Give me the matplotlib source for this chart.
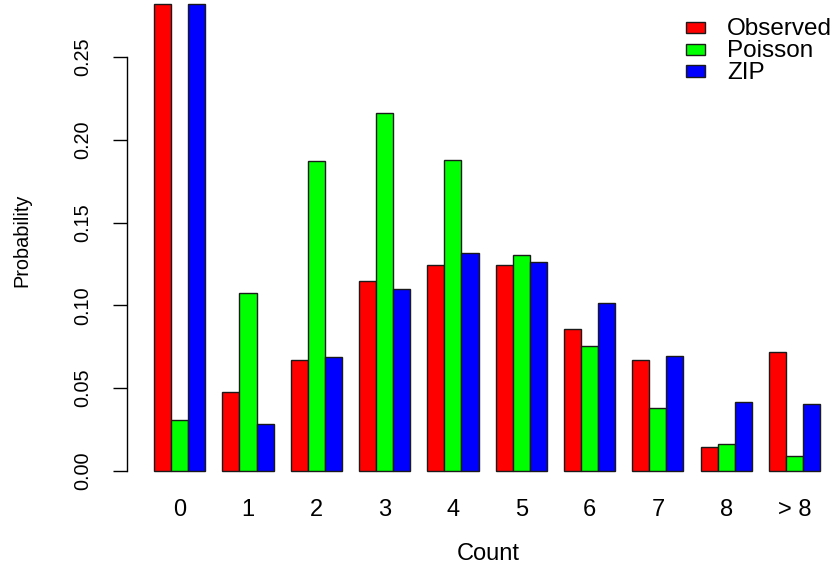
import matplotlib
matplotlib.use("Agg")
import matplotlib.pyplot as plt
import numpy as np

plt.rcParams['font.family'] = ['Liberation Sans', 'DejaVu Sans']

counts = ["0", "1", "2", "3", "4", "5", "6", "7", "8", "> 8"]
observed = [0.282, 0.0477, 0.0670, 0.1147, 0.1244, 0.1244, 0.0859, 0.0670, 0.0143, 0.0717]
poisson = [0.0308, 0.1075, 0.1870, 0.2164, 0.1878, 0.1304, 0.0755, 0.0380, 0.0161, 0.0092]
zip_fit = [0.282, 0.0284, 0.0688, 0.1097, 0.1315, 0.1262, 0.1013, 0.0694, 0.0417, 0.0403]
series = ["Observed", "Poisson", "ZIP"]
colors = ["#ff0000", "#00ff00", "#0000ff"]

W, H = 839, 568
fig = plt.figure(figsize=(W / 100, H / 100), dpi=100)

# plot region in pixel terms
left_px, right_px, top_px, bottom_px = 127.4, 839.0, 0.0, 487.6
ax = fig.add_axes([left_px / W, 1 - bottom_px / H,
                   (right_px - left_px) / W, (bottom_px - top_px) / H])

n = len(counts)
groups = np.arange(n) * 4 + 1  # one empty slot between each group of three
for j, vals in enumerate([observed, poisson, zip_fit]):
    ax.bar(groups + j, vals, width=1.0, align='edge', color=colors[j],
           edgecolor='#1a1a1a', linewidth=1.0)

ax.set_xlim(-0.56, 41.105)
ax.set_ylim(-0.0101, 0.2844)

for s in ['top', 'right', 'bottom']:
    ax.spines[s].set_visible(False)
ax.spines['left'].set_bounds(0, 0.25)
ax.spines['left'].set_linewidth(1.0)

yt = np.arange(0, 0.26, 0.05)
ax.set_yticks(yt)
ax.set_yticklabels([f"{v:.2f}" for v in yt], rotation=90, va='center', fontsize=14.3)
ax.tick_params(axis='y', length=10, width=1.0, pad=15)

ax.set_xticks(groups + 1.5)
ax.set_xticklabels(counts, fontsize=17)
ax.tick_params(axis='x', length=0, pad=8)

fig.text(22 / W, 1 - 240 / H, "Probability", rotation=90, ha='center', va='center', fontsize=14.3)
fig.text(488 / W, 1 - 554 / H, "Count", ha='center', va='center', fontsize=17)

# legend at top right
row_y = [27.7, 49.3, 71.0]
for lab, col, yc in zip(series, colors, row_y):
    ax.add_patch(plt.Rectangle((686 / W, 1 - (yc + 5.5) / H), 19 / W, 11 / H,
                               transform=fig.transFigure, facecolor=col,
                               edgecolor='#1a1a1a', linewidth=1.0, clip_on=False))
    fig.text(727 / W, 1 - (yc + 7.5) / H, lab, ha='left', va='baseline', fontsize=17.5)

fig.savefig("out.png", dpi=100)
